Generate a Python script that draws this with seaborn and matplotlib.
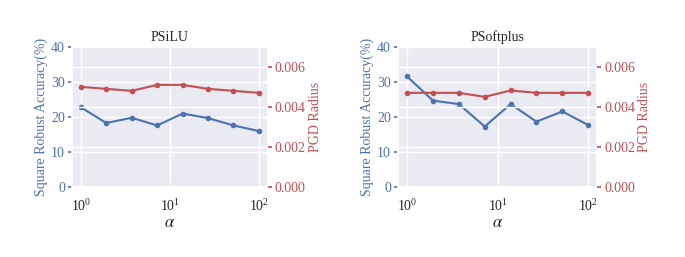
import matplotlib
matplotlib.use("Agg")
import matplotlib.pyplot as plt
import numpy as np
import pandas as pd
import seaborn as sns

# ---- data ----
alpha = [1.0, 1.93, 3.73, 7.20, 13.9, 26.8, 51.8, 100.0]
panels = ["PSiLU", "PSoftplus"]
acc_psilu = [22.8, 18.3, 19.8, 17.6, 21.0, 19.7, 17.6, 16.0]
acc_psoftplus = [31.6, 24.7, 23.7, 17.3, 23.7, 18.7, 21.6, 17.7]
rad_psilu = [0.00501, 0.00491, 0.00481, 0.00511, 0.00511, 0.00491, 0.00481, 0.00471]
rad_psoftplus = [0.00471, 0.00471, 0.00471, 0.00451, 0.00483, 0.00471, 0.00471, 0.00471]

acc_ticks = [0, 10, 20, 30, 40]
rad_ticks = [0.000, 0.002, 0.004, 0.006]

sns.set_theme(style="darkgrid")
plt.rcParams["font.family"] = ["Liberation Serif", "DejaVu Serif"]
plt.rcParams["mathtext.fontset"] = "stix"

blue = "#4C72B0"
red = "#C44E52"

fig = plt.figure(figsize=(6.85, 2.57), dpi=100)
positions = [[0.105, 0.272, 0.286, 0.545], [0.581, 0.272, 0.291, 0.545]]
accs = [acc_psilu, acc_psoftplus]
rads = [rad_psilu, rad_psoftplus]

for name, pos, acc, rad in zip(panels, positions, accs, rads):
    ax = fig.add_axes(pos)
    df = pd.DataFrame({"alpha": alpha, "acc": acc, "rad": rad})
    sns.lineplot(data=df, x="alpha", y="acc", ax=ax, color=blue, marker="o",
                 markersize=4, markeredgewidth=0, linewidth=1.5)
    ax.set_xscale("log")
    ax.set_ylim(0, 40)
    ax.set_yticks(acc_ticks)
    ax.set_ylabel("Square Robust Accuracy(%)", color=blue, fontsize=10, labelpad=2)
    ax.set_xlabel(r"$\alpha$", fontsize=12, labelpad=1)
    ax.set_title(name, fontsize=10, pad=4)
    ax.tick_params(axis="y", colors=blue, labelsize=10, length=3, width=1.2, pad=2)
    ax.tick_params(axis="x", labelsize=10, pad=2)
    ax.minorticks_off()

    ax2 = ax.twinx()
    sns.lineplot(data=df, x="alpha", y="rad", ax=ax2, color=red, marker="o",
                 markersize=4, markeredgewidth=0, linewidth=1.5)
    ax2.set_ylim(0, 0.007)
    ax2.set_yticks(rad_ticks)
    ax2.set_yticklabels([f"{t:.3f}" for t in rad_ticks])
    ax2.set_ylabel("PGD Radius", color=red, fontsize=10, labelpad=2)
    ax2.tick_params(axis="y", colors=red, labelsize=10, length=3, width=1.2, pad=2)
    ax2.set_xlabel("")
    ax2.minorticks_off()
    for s in ax2.spines.values():
        s.set_visible(False)

fig.savefig("out.png", dpi=100)
